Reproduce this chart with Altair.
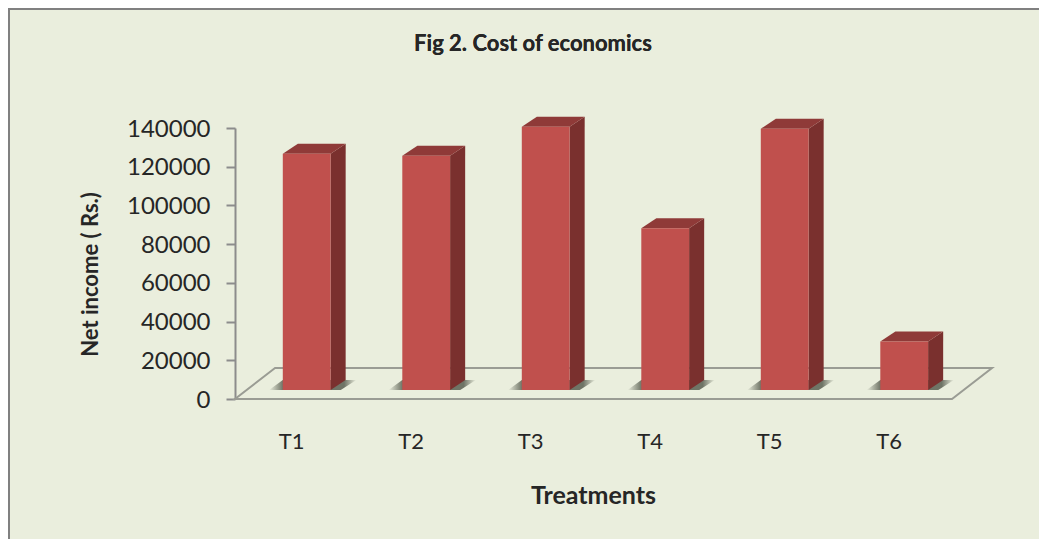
import altair as alt
import pandas as pd

categories = ["T1", "T2", "T3", "T4", "T5", "T6"]
net_income = [122000, 121000, 136000, 83500, 135000, 25000]
y_ticks = [0, 20000, 40000, 60000, 80000, 100000, 120000, 140000]
chart_title = "Fig 2. Cost of economics"

# 3-D look, expressed in data units of the two scales
FLOOR_DX, FLOOR_DY = 0.335, 16000
BASE_DX, BASE_DY = 0.100, 4650
BAR_W = 0.40
BAR_DX, BAR_DY = 0.126, 5170

BG = "#EAEEDD"
FONT = "Lato"
INK = "#262626"
GREY = "#8C8C8C"

fronts, sides, tops, shadows = [], [], [], []
for i, (c, v) in enumerate(zip(categories, net_income)):
    x0 = i + 0.5 + BASE_DX - BAR_W / 2
    x1 = x0 + BAR_W
    top = v + BASE_DY
    fronts.append(dict(c=c, x0=x0, x1=x1, y0=BASE_DY, y1=top))
    sides += [dict(c=c, x=x1, lo=BASE_DY, hi=top),
              dict(c=c, x=x1 + BAR_DX, lo=BASE_DY + BAR_DY, hi=top + BAR_DY)]
    tops += [dict(c=c, y=top, a=x0, b=x1),
             dict(c=c, y=top + BAR_DY, a=x0 + BAR_DX, b=x1 + BAR_DX)]
    shadows += [dict(c=c, y=BASE_DY, a=x0 - 0.115, b=x1 + 0.085),
                dict(c=c, y=BASE_DY + BAR_DY, a=x0 + 0.0, b=x1 + BAR_DX + 0.09)]

floor = pd.DataFrame([dict(y=0, a=0, b=6),
                      dict(y=FLOOR_DY, a=FLOOR_DX, b=6 + FLOOR_DX)])

xs = alt.Scale(domain=[0, 6], nice=False, zero=False)
ys = alt.Scale(domain=[0, 140000], nice=False, zero=False)

x_axis = alt.Axis(
    title="Treatments", values=[i + 0.47 for i in range(6)],
    labelExpr="'T' + round(datum.value + 0.53)",
    domain=False, ticks=False, grid=False, labelPadding=32,
    labelFont=FONT, labelFontSize=22, labelColor=INK,
    titleFont=FONT, titleFontSize=25, titleFontWeight="bold", titleColor=INK,
    titleX=358, titleY=84)
y_axis = alt.Axis(
    title="Net income ( Rs.)", values=y_ticks, format="d",
    grid=False, domainColor=GREY, domainWidth=2, tickColor=GREY, tickWidth=2,
    tickSize=9, labelPadding=16, labelOffset=1,
    labelFont=FONT, labelFontSize=24, labelColor=INK,
    titleFont=FONT, titleFontSize=22, titleFontWeight="bold", titleColor=INK,
    titleX=-133, titleY=146)

X = lambda f: alt.X(f, type="quantitative", scale=xs, axis=x_axis)
Y = lambda f: alt.Y(f, type="quantitative", scale=ys, axis=y_axis)

floor_l = alt.Chart(floor).mark_area(
    orient="horizontal", fill=BG, stroke="#9A9C94", strokeWidth=2
).encode(y=Y("y"), x=X("a"), x2="b")

shadow_l = alt.Chart(pd.DataFrame(shadows)).mark_area(
    orient="horizontal",
    fill=alt.Gradient(gradient="linear", x1=0, x2=1, y1=0, y2=0, stops=[
        alt.GradientStop(color=BG, offset=0),
        alt.GradientStop(color="#6F7466", offset=0.16),
        alt.GradientStop(color="#6F7466", offset=0.86),
        alt.GradientStop(color=BG, offset=1),
    ]),
).encode(y=Y("y"), x=X("a"), x2="b", detail="c:N")

side_l = alt.Chart(pd.DataFrame(sides)).mark_area(fill="#7A302E").encode(
    x=X("x"), y=Y("lo"), y2="hi", detail="c:N")

top_l = alt.Chart(pd.DataFrame(tops)).mark_area(orient="horizontal", fill="#8F3A38").encode(
    y=Y("y"), x=X("a"), x2="b", detail="c:N")

front_l = alt.Chart(pd.DataFrame(fronts)).mark_rect(fill="#C0504D").encode(
    x=X("x0"), x2="x1", y=Y("y0"), y2="y1")

border_top = alt.Chart(floor).mark_rule(color="#808080", strokeWidth=2).encode(
    x=alt.value(-227), x2=alt.value(804), y=alt.value(-119))
border_left = alt.Chart(floor).mark_rule(color="#808080", strokeWidth=2).encode(
    x=alt.value(-226), y=alt.value(-120), y2=alt.value(411))

title_l = alt.Chart(floor).mark_text(
    text=chart_title, font=FONT, fontSize=22, fontWeight="bold", color=INK
).encode(x=alt.value(298), y=alt.value(-84))

chart = alt.layer(floor_l, shadow_l, side_l, top_l, front_l, border_top, border_left, title_l).properties(
    width=717, height=271,
    background=BG,
    padding={"left": 227, "top": 120, "right": 87, "bottom": 140},
    autosize=alt.AutoSizeParams(type="none"),
).configure_view(stroke=None)

chart.save("out.html", embed_options={"renderer": "svg", "actions": False})
